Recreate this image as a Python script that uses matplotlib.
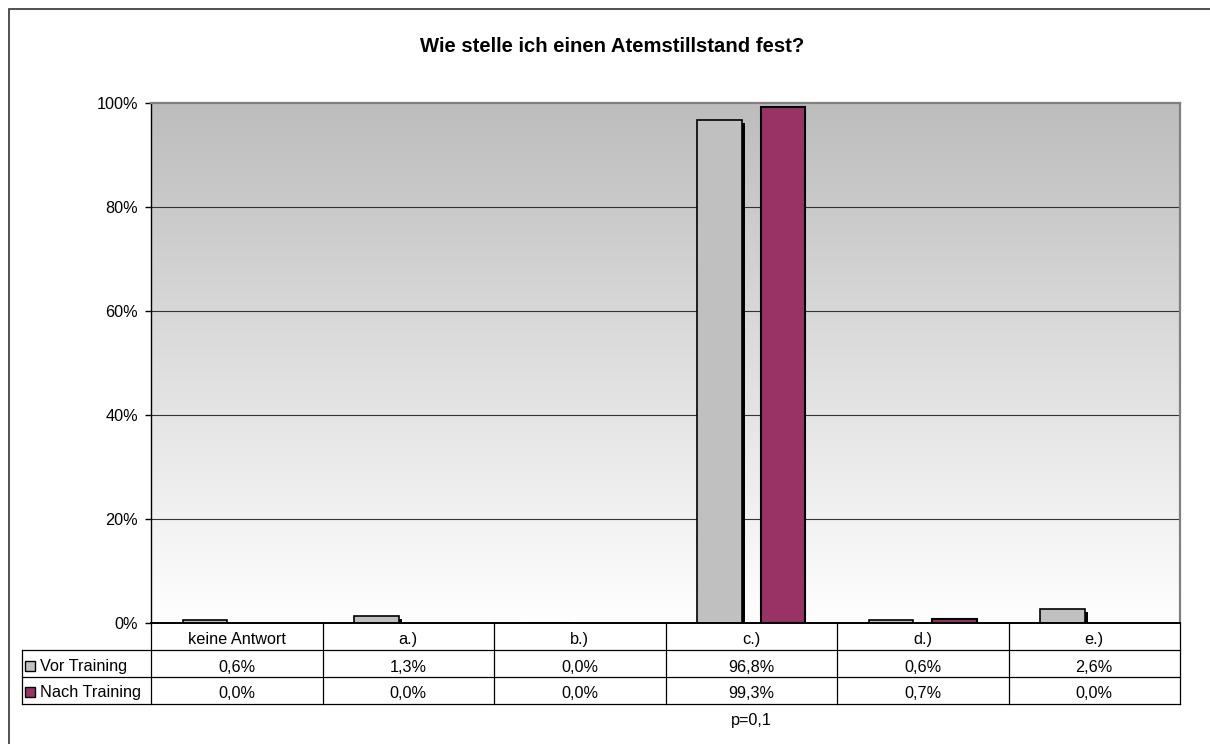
import numpy as np
import matplotlib
matplotlib.use("Agg")
import matplotlib.pyplot as plt
from matplotlib.colors import LinearSegmentedColormap
from matplotlib.patches import Rectangle
from matplotlib.transforms import ScaledTranslation, blended_transform_factory

# ---- data ----
categories = ["keine Antwort", "a.)", "b.)", "c.)", "d.)", "e.)"]
series_names = ["Vor Training", "Nach Training"]
vor_training = [0.6, 1.3, 0.0, 96.8, 0.6, 2.6]
nach_training = [0.0, 0.0, 0.0, 99.3, 0.7, 0.0]
y_ticks = [0, 20, 40, 60, 80, 100]
title = "Wie stelle ich einen Atemstillstand fest?"
footnote = "p=0,1"

# ---- style ----
W, H = 1210, 744
FONT = "Liberation Sans"
FS = 11.7
GRAY = "#c0c0c0"
PLUM = "#993366"

plt.rcParams["font.family"] = [FONT, "DejaVu Sans"]

fig = plt.figure(figsize=(W / 100, H / 100), dpi=100)
fig.patch.set_facecolor("white")

# pixel-space overlay for frame, title and the data table
ov = fig.add_axes([0, 0, 1, 1], zorder=5)
ov.set_xlim(0, W)
ov.set_ylim(H, 0)
ov.axis("off")
ov.patch.set_alpha(0)

# plot area
left, right, top, bottom = 151, 1180, 103, 623
ax = fig.add_axes([left / W, 1 - bottom / H, (right - left) / W, (bottom - top) / H])

x = np.arange(len(categories))

# gradient background: gray at the top fading to white
cmap = LinearSegmentedColormap.from_list("bg", ["#bdbdbd", "#ffffff"])
ax.imshow(np.linspace(0, 1, 256).reshape(-1, 1), cmap=cmap, aspect="auto",
          extent=(0, 1, 0, 1), transform=ax.transAxes, zorder=0,
          interpolation="bilinear")
ax.set_xlim(-0.5, len(categories) - 0.5)
ax.set_ylim(0, 100)

for t in y_ticks[1:-1]:
    ax.axhline(t, color="#333333", lw=0.8, zorder=1)

# bars
bw = 0.262
off = 0.185
shadow_tf = ax.transData + ScaledTranslation(3 / 100, -3 / 100, fig.dpi_scale_trans)
for xi, v in zip(x - off, vor_training):
    if v > 0:
        ax.add_patch(Rectangle((xi - bw / 2, 0), bw, v, facecolor="black",
                               edgecolor="none", transform=shadow_tf, zorder=2))
ax.bar(x - off, vor_training, width=bw, color=GRAY, edgecolor="black",
       linewidth=1.2, zorder=3)
nach_h = [v if v > 0 else np.nan for v in nach_training]
ax.bar(x + off, nach_h, width=bw, color=PLUM, edgecolor="black",
       linewidth=1.5, zorder=3)

# axes styling
ax.set_xticks([])
ax.set_yticks(y_ticks)
ax.set_yticklabels([f"{t}%" for t in y_ticks], fontsize=FS)
ax.tick_params(axis="y", direction="out", length=4.5, width=1, pad=5, color="black")
for side in ("top", "right"):
    ax.spines[side].set_color("#808080")
    ax.spines[side].set_linewidth(1.6)
ax.spines["left"].set_color("black")
ax.spines["left"].set_linewidth(1.0)
ax.spines["bottom"].set_color("black")
ax.spines["bottom"].set_linewidth(1.2)

# outer chart frame (left and top edges)
ov.plot([8.5, 8.5, W], [H, 8.5, 8.5], color="#333333", lw=1.2,
        solid_joinstyle="miter")

# title
ov.text(612, 47, title, ha="center", va="center", fontsize=14.6, fontweight="bold")

# data table under the plot: x in category units, y in pixels
tb = blended_transform_factory(ax.transData, ov.transData)
row_lines = [623, 650, 677, 704]
col_bounds = np.arange(len(categories) + 1) - 0.5
lc = "black"
lw = 0.9
# horizontal rules
ov.plot([left, right], [row_lines[0]] * 2, color=lc, lw=1.2)
for yy in row_lines[1:]:
    ov.plot([21.5, right], [yy, yy], color=lc, lw=lw)
# vertical rules
for cb in col_bounds:
    ov.plot([cb, cb], [row_lines[0], row_lines[-1]], color=lc, lw=lw,
            transform=tb, clip_on=False)
ov.plot([21.5, 21.5], [row_lines[1], row_lines[-1]], color=lc, lw=lw)

# category labels and values
for i, cat in enumerate(categories):
    ov.text(i, 644, cat, ha="center", va="baseline", fontsize=FS,
            transform=tb, clip_on=False)
    ov.text(i, 671.5, f"{vor_training[i]:.1f}%".replace(".", ","), ha="center",
            va="baseline", fontsize=FS, transform=tb, clip_on=False)
    ov.text(i, 697.5, f"{nach_training[i]:.1f}%".replace(".", ","), ha="center",
            va="baseline", fontsize=FS, transform=tb, clip_on=False)

# legend keys inside the table
for name, col, yc in zip(series_names, [GRAY, PLUM], [666, 692]):
    ov.add_patch(Rectangle((25, yc - 5), 9.5, 9.5, facecolor=col,
                           edgecolor="black", lw=1.0))
    ov.text(40, yc, name, ha="left", va="center", fontsize=FS)

# significance note under column c.)
ov.text(categories.index("c.)"), 724.5, footnote, ha="center", va="baseline",
        fontsize=FS, transform=tb, clip_on=False)

fig.savefig("out.png", dpi=100, facecolor="white")
